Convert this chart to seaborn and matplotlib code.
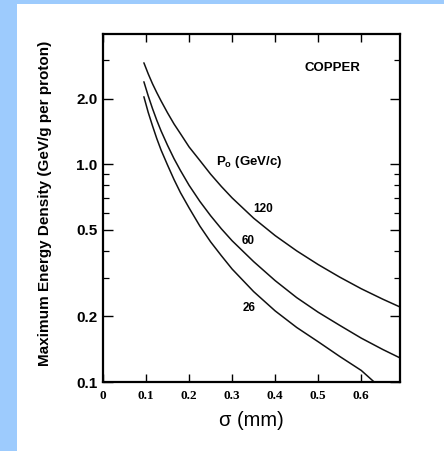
import numpy as np
import pandas as pd
import matplotlib
matplotlib.use("Agg")
import matplotlib.pyplot as plt
import seaborn as sns
from matplotlib.patches import Rectangle
from matplotlib.ticker import FixedLocator, NullFormatter

# ---- data ----
sigma = [0.095, 0.105, 0.115, 0.125, 0.135, 0.15, 0.165, 0.18, 0.2, 0.225, 0.25,
         0.275, 0.3, 0.35, 0.4, 0.45, 0.5, 0.55, 0.6, 0.65, 0.69]
e_120 = [2.92, 2.60, 2.34, 2.13, 1.95, 1.72, 1.53, 1.38, 1.20, 1.04, 0.90,
         0.79, 0.70, 0.565, 0.47, 0.40, 0.346, 0.303, 0.268, 0.240, 0.221]
e_60 = [2.39, 2.06, 1.80, 1.59, 1.42, 1.22, 1.06, 0.935, 0.80, 0.675, 0.58,
        0.505, 0.445, 0.357, 0.292, 0.244, 0.209, 0.182, 0.159, 0.141, 0.129]
sigma_26 = [0.095, 0.105, 0.115, 0.125, 0.135, 0.15, 0.165, 0.18, 0.2, 0.225, 0.25,
            0.275, 0.3, 0.35, 0.4, 0.45, 0.5, 0.55, 0.6, 0.63]
e_26 = [2.04, 1.73, 1.50, 1.31, 1.16, 0.99, 0.85, 0.74, 0.63, 0.52, 0.44,
        0.38, 0.33, 0.26, 0.212, 0.178, 0.153, 0.131, 0.113, 0.100]
momenta = ["120", "60", "26"]

x_ticks = [0, 0.1, 0.2, 0.3, 0.4, 0.5, 0.6]
x_ticklabels = ["0", "0.1", "0.2", "0.3", "0.4", "0.5", "0.6"]
y_major = [0.1, 0.2, 0.5, 1.0, 2.0]
y_major_labels = ["0.1", "0.2", "0.5", "1.0", "2.0"]
y_minor = [0.3, 0.4, 0.6, 0.7, 0.8, 0.9, 3.0]

df = pd.concat([
    pd.DataFrame({"sigma": sigma, "E": e_120, "P": "120"}),
    pd.DataFrame({"sigma": sigma, "E": e_60, "P": "60"}),
    pd.DataFrame({"sigma": sigma_26, "E": e_26, "P": "26"}),
])

sns.set_theme(style="ticks")
plt.rcParams["font.family"] = ["Liberation Sans", "DejaVu Sans"]
plt.rcParams["mathtext.fontset"] = "custom"
plt.rcParams["mathtext.rm"] = "Liberation Sans:bold"
plt.rcParams["mathtext.bf"] = "Liberation Sans:bold"
for key in ["text.color", "axes.labelcolor", "xtick.color", "ytick.color"]:
    plt.rcParams[key] = "black"

fig = plt.figure(figsize=(4.44, 4.51), dpi=100)
fig.patch.set_facecolor("white")
blue = "#9dcbfd"
fig.patches.append(Rectangle((0, 0), 17 / 444, 1, transform=fig.transFigure,
                             facecolor=blue, edgecolor="none", zorder=0))
fig.patches.append(Rectangle((0, 1 - 4 / 451), 1, 4 / 451, transform=fig.transFigure,
                             facecolor=blue, edgecolor="none", zorder=0))

ax = fig.add_axes([103 / 444, (451 - 382) / 451, 297 / 444, 348 / 451])
sns.lineplot(data=df, x="sigma", y="E", units="P", estimator=None,
             color="#111111", linewidth=1.1, ax=ax, legend=False, sort=False)

ax.set_yscale("log")
ax.set_xlim(0, 0.69)
ax.set_ylim(0.1, 3.96)

ax.xaxis.set_major_locator(FixedLocator(x_ticks))
ax.set_xticklabels(x_ticklabels, fontfamily="Liberation Serif", fontweight="bold", fontsize=9.5)
ax.yaxis.set_major_locator(FixedLocator(y_major))
ax.set_yticklabels(y_major_labels, fontweight="bold", fontsize=11)
ax.yaxis.set_minor_locator(FixedLocator(y_minor))
ax.yaxis.set_minor_formatter(NullFormatter())

ax.tick_params(axis="both", which="major", direction="in", length=6, width=1,
               top=True, right=True, color="black")
ax.tick_params(axis="x", which="major", pad=6)
ax.tick_params(axis="y", which="major", pad=4, length=7)
ax.tick_params(axis="y", which="minor", direction="in", length=4, width=0.9,
               left=True, right=True, color="black")
for s in ax.spines.values():
    s.set_linewidth(1.6)
    s.set_color("black")
    s.set_visible(True)

ax.set_xlabel("σ (mm)", fontsize=14.5, labelpad=6)
ax.set_ylabel("Maximum Energy Density (GeV/g per proton)", fontweight="bold", fontsize=11)
ax.yaxis.set_label_coords(-0.172, 0.513)

ax.text(0.467, 2.77, "COPPER", fontweight="bold", fontsize=9.5, va="center", ha="left")
ax.text(0.262, 1.02, r"$\mathrm{P_o}$ (GeV/c)", fontweight="bold", fontsize=9.5, va="center", ha="left")
label_pos = [(0.372, 0.622), (0.336, 0.442), (0.34, 0.218)]
for lab, (lx, ly) in zip(momenta, label_pos):
    ax.text(lx, ly, lab, fontweight="bold", fontsize=8.5, ha="center", va="center")

fig.savefig("out.png", dpi=100)
